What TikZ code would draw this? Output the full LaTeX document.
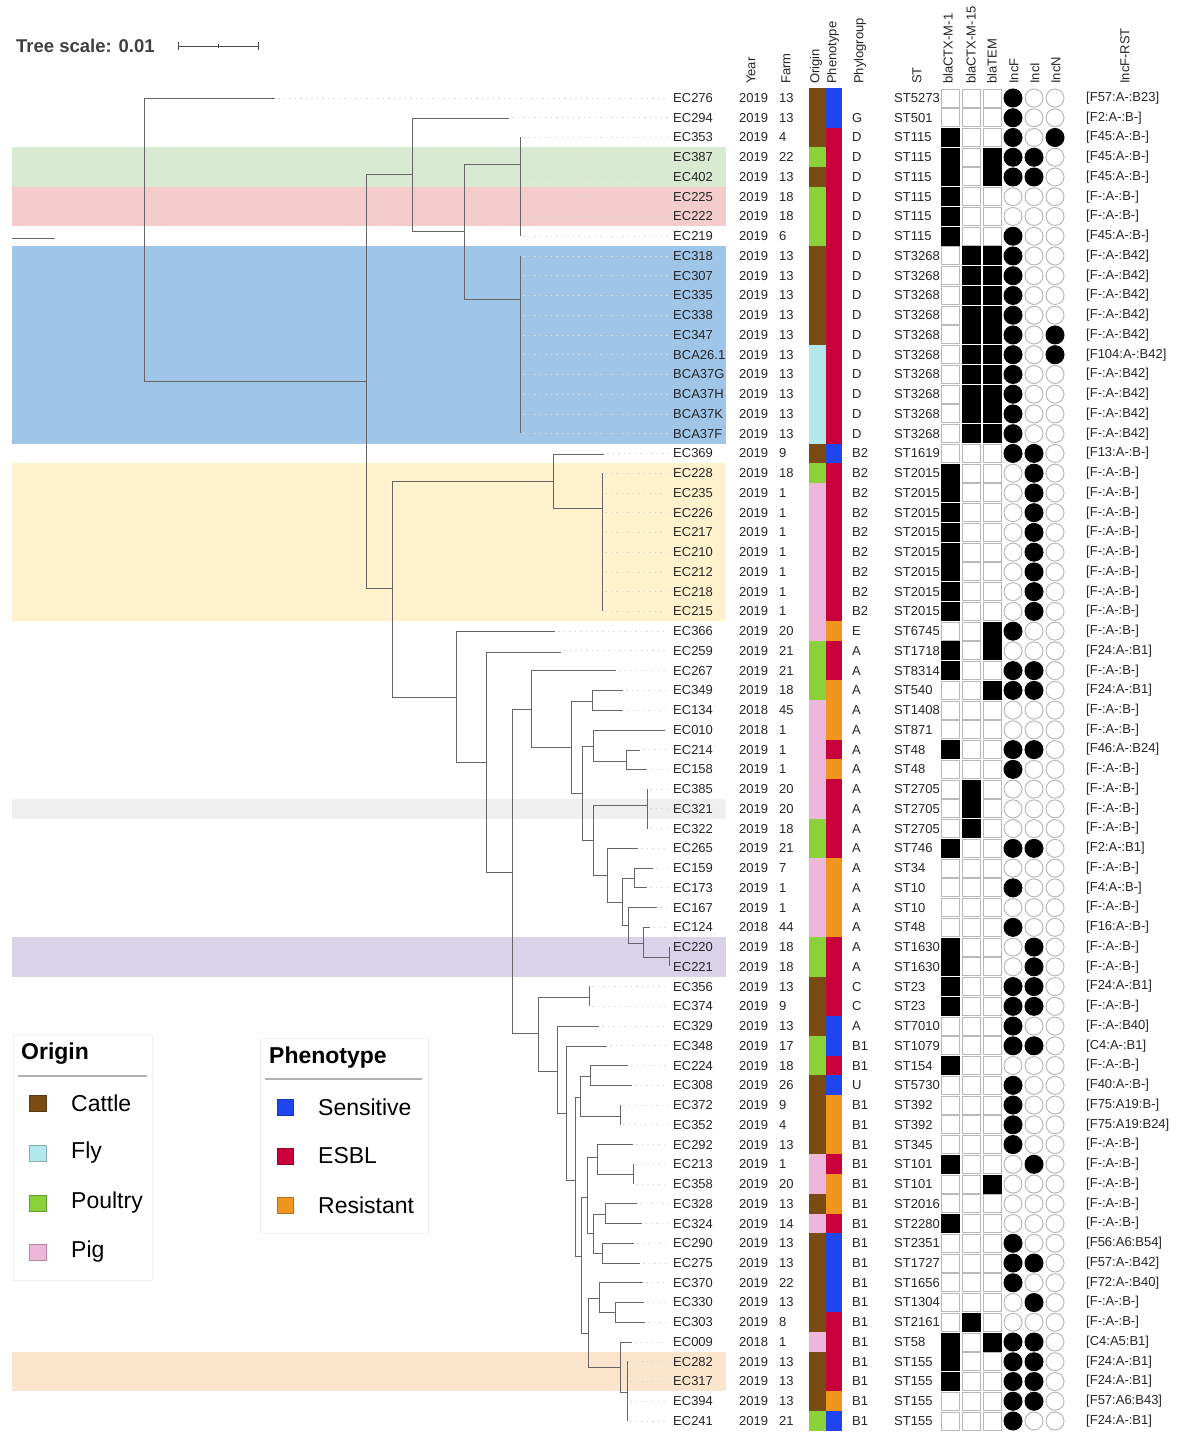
\documentclass[tikz,border=0pt]{standalone}
\usepackage{fontspec}
\setmainfont{Liberation Sans}
\definecolor{oC}{HTML}{7A4A13}
\definecolor{oF}{HTML}{B0E8EE}
\definecolor{oP}{HTML}{8BD13A}
\definecolor{oG}{HTML}{EDB6DA}
\definecolor{pS}{HTML}{1F45F0}
\definecolor{pE}{HTML}{C8003C}
\definecolor{pR}{HTML}{F0961E}
\definecolor{bandG}{HTML}{D9EAD3}
\definecolor{bandR}{HTML}{F4CCCC}
\definecolor{bandB}{HTML}{9FC5E8}
\definecolor{bandY}{HTML}{FFF2CC}
\definecolor{bandK}{HTML}{EFEFEF}
\definecolor{bandV}{HTML}{D9D2E9}
\definecolor{bandO}{HTML}{FCE5CD}
\colorlet{k0}{white}\colorlet{k1}{black}
\colorlet{e0}{gray!55}\colorlet{e1}{black}
\tikzset{tab/.style={inner sep=0pt,text=black!85,font=\fontsize{13}{15}\selectfont},
  branch/.style={draw=black!60,line width=0.9pt},
  leafdot/.style={draw=gray!30,line width=0.8pt,dash pattern=on 1.5pt off 4pt}}
\begin{document}
\begin{tikzpicture}[x=1pt,y=-1pt]
\useasboundingbox (0,0) rectangle (1181,1443);
\fill[white] (0,0) rectangle (1181,1443);
% highlighted clades
\foreach \ra/\rb/\bc in {3/4/bandG,5/6/bandR,8/17/bandB,19/26/bandY,36/36/bandK,43/44/bandV,64/65/bandO}
{\pgfmathsetmacro\ya{98+19.746*(\ra-0.5)}\pgfmathsetmacro\yb{98+19.746*(\rb+0.5)}
\fill[\bc] (12,\ya) rectangle (726,\yb);}
\draw[branch] (12,238) -- (55,238);
% tree scale
\node[anchor=west,inner sep=0pt,text=black!75,font=\bfseries\fontsize{18.5}{20}\selectfont] (scale) at (16,46) {Tree scale: 0.01};
\draw[black!70,line width=1pt] (178,46) -- (258,46);
\draw[black!70,line width=1pt] (178,42) -- (178,50) (258,42) -- (258,50) (218,44) -- (218,48);
% leaves
\foreach \r/\tx in {0/275,1/509,2/520,3/520,4/520,5/520,6/520,7/520,8/520,9/520,10/520,11/520,12/520,13/520,14/520,15/520,16/520,17/520,18/604,19/602,20/602,21/602,22/602,23/602,24/602,25/602,26/602,27/555,28/561,29/616,30/623,31/623,32/665,33/640,34/647,35/647,36/647,37/647,38/638,39/653,40/647,41/657,42/650,43/669,44/669,45/589,46/589,47/599,48/607,49/628,50/632,51/620,52/620,53/633,54/633,55/633,56/637,57/642,58/634,59/640,60/643,61/644,62/645,63/632,64/627,65/627,66/627,67/627}
{\pgfmathsetmacro\yy{98+19.746*\r}
\draw[leafdot] (\tx+3,\yy) -- (668,\yy);}
% tree
\foreach \xa/\ya/\xn/\yb/\xb in {275/98/144/381/366,412/174/366/588/392,509/118/412/231/464,520/164/464/299/520,
553/481/392/697/456,604/454/553/508/602,555/631/456/762/486,561/652/486/872/512,531/709/512/1033/538,
616/670/531/747/571,592/701/571/793/582,623/690/592/710/623,593/746/582/840/593,665/730/593/761/626,
640/750/626/769/647,647/805/593/875/607,638/848/607/902/622,634/878/622/925/628,653/868/634/887/647,
657/907/628/943/643,650/927/643/957/669,589/997/538/1071/557,599/1026/557/1113/566,607/1046/566/1180/575,
580/1097/575/1256/581,590/1076/580/1116/620,628/1065/590/1085/632,587/1197/581/1333/588,597/1157/587/1233/593,
633/1144/597/1174/633,605/1214/593/1253/602,637/1203/605/1223/642,634/1243/602/1263/640,599/1298/588/1367/620,
643/1282/599/1312/615,644/1302/615/1322/645,632/1342/620/1392/627}
\draw[branch] (\xa,\ya) -| (\xn,\yb) -- (\xb,\yb);
\foreach \xn/\ya/\yb in {520/137/236,520/256/433,602/473/611,647/789/829,669/947/966,589/986/1006,620/1105/1125,633/1164/1184,627/1361/1421}
\draw[branch] (\xn,\ya) -- (\xn,\yb);
% column heads
\foreach \hx/\htxt [count=\k] in {751/Year,786/Farm,816/Origin,833/Phenotype,860/Phylogroup,917/ST,948/blaCTX-M-1,971/blaCTX-M-15,992/blaTEM,1014/IncF,1035/IncI,1056/IncN,1125/IncF-RST}
\node[tab,rotate=90,anchor=west] (head\k) at (\hx,84) {\htxt};
% isolates
\foreach \nm/\yr/\fm/\grp/\stt/\rst [count=\r from 0] in {EC276/2019/13/{}/ST5273/F57:A-:B23,
EC294/2019/13/G/ST501/F2:A-:B-,EC353/2019/4/D/ST115/F45:A-:B-,EC387/2019/22/D/ST115/F45:A-:B-,
EC402/2019/13/D/ST115/F45:A-:B-,EC225/2019/18/D/ST115/F-:A-:B-,EC222/2019/18/D/ST115/F-:A-:B-,
EC219/2019/6/D/ST115/F45:A-:B-,EC318/2019/13/D/ST3268/F-:A-:B42,EC307/2019/13/D/ST3268/F-:A-:B42,
EC335/2019/13/D/ST3268/F-:A-:B42,EC338/2019/13/D/ST3268/F-:A-:B42,EC347/2019/13/D/ST3268/F-:A-:B42,
BCA26.1/2019/13/D/ST3268/F104:A-:B42,BCA37G/2019/13/D/ST3268/F-:A-:B42,BCA37H/2019/13/D/ST3268/F-:A-:B42,
BCA37K/2019/13/D/ST3268/F-:A-:B42,BCA37F/2019/13/D/ST3268/F-:A-:B42,EC369/2019/9/B2/ST1619/F13:A-:B-,
EC228/2019/18/B2/ST2015/F-:A-:B-,EC235/2019/1/B2/ST2015/F-:A-:B-,EC226/2019/1/B2/ST2015/F-:A-:B-,
EC217/2019/1/B2/ST2015/F-:A-:B-,EC210/2019/1/B2/ST2015/F-:A-:B-,EC212/2019/1/B2/ST2015/F-:A-:B-,
EC218/2019/1/B2/ST2015/F-:A-:B-,EC215/2019/1/B2/ST2015/F-:A-:B-,EC366/2019/20/E/ST6745/F-:A-:B-,
EC259/2019/21/A/ST1718/F24:A-:B1,EC267/2019/21/A/ST8314/F-:A-:B-,EC349/2019/18/A/ST540/F24:A-:B1,
EC134/2018/45/A/ST1408/F-:A-:B-,EC010/2018/1/A/ST871/F-:A-:B-,EC214/2019/1/A/ST48/F46:A-:B24,
EC158/2019/1/A/ST48/F-:A-:B-,EC385/2019/20/A/ST2705/F-:A-:B-,EC321/2019/20/A/ST2705/F-:A-:B-,
EC322/2019/18/A/ST2705/F-:A-:B-,EC265/2019/21/A/ST746/F2:A-:B1,EC159/2019/7/A/ST34/F-:A-:B-,
EC173/2019/1/A/ST10/F4:A-:B-,EC167/2019/1/A/ST10/F-:A-:B-,EC124/2018/44/A/ST48/F16:A-:B-,
EC220/2019/18/A/ST1630/F-:A-:B-,EC221/2019/18/A/ST1630/F-:A-:B-,EC356/2019/13/C/ST23/F24:A-:B1,
EC374/2019/9/C/ST23/F-:A-:B-,EC329/2019/13/A/ST7010/F-:A-:B40,EC348/2019/17/B1/ST1079/C4:A-:B1,
EC224/2019/18/B1/ST154/F-:A-:B-,EC308/2019/26/U/ST5730/F40:A-:B-,EC372/2019/9/B1/ST392/F75:A19:B-,
EC352/2019/4/B1/ST392/F75:A19:B24,EC292/2019/13/B1/ST345/F-:A-:B-,EC213/2019/1/B1/ST101/F-:A-:B-,
EC358/2019/20/B1/ST101/F-:A-:B-,EC328/2019/13/B1/ST2016/F-:A-:B-,EC324/2019/14/B1/ST2280/F-:A-:B-,
EC290/2019/13/B1/ST2351/F56:A6:B54,EC275/2019/13/B1/ST1727/F57:A-:B42,EC370/2019/22/B1/ST1656/F72:A-:B40,
EC330/2019/13/B1/ST1304/F-:A-:B-,EC303/2019/8/B1/ST2161/F-:A-:B-,EC009/2018/1/B1/ST58/C4:A5:B1,
EC282/2019/13/B1/ST155/F24:A-:B1,EC317/2019/13/B1/ST155/F24:A-:B1,EC394/2019/13/B1/ST155/F57:A6:B43,
EC241/2019/21/B1/ST155/F24:A-:B1}
{\pgfmathsetmacro\yy{98+19.746*\r}
\node[tab,anchor=west] (iso\r) at (673,\yy) {\nm};
\node[tab,anchor=west] (yr\r) at (739,\yy) {\yr};
\node[tab,anchor=west] (farm\r) at (779,\yy) {\fm};
\node[tab,anchor=west] (pg\r) at (852,\yy) {\grp};
\node[tab,anchor=west] (st\r) at (894,\yy) {\stt};
\node[tab,anchor=west] (rst\r) at (1086,\yy) {[\rst]};}
% origin and phenotype strips
\foreach \og/\ph [count=\r from 0] in {C/S,C/S,C/E,P/E,C/E,P/E,P/E,P/E,C/E,C/E,C/E,C/E,C/E,F/E,F/E,F/E,F/E,F/E,
C/S,P/E,G/E,G/E,G/E,G/E,G/E,G/E,G/E,G/R,P/E,P/E,P/R,G/R,G/R,G/E,G/R,G/E,G/E,P/E,P/E,G/R,G/R,G/R,G/R,P/E,P/E,
C/E,C/E,C/S,P/S,P/E,C/S,C/R,C/R,C/R,G/E,G/R,C/R,G/E,C/S,C/S,C/S,C/S,C/E,G/E,C/E,C/E,C/R,P/S}
{\pgfmathsetmacro\yy{98+19.746*\r}
\fill[fill=o\og] (809,\yy-9.9) rectangle (826,\yy+9.9);
\fill[fill=p\ph] (826,\yy-9.9) rectangle (842,\yy+9.9);}
% genes and plasmids
\foreach \ga/\gb/\gc/\pF/\pI/\pN [count=\r from 0] in {0/0/0/1/0/0,0/0/0/1/0/0,1/0/0/1/0/1,1/0/1/1/1/0,1/0/1/1/1/0,
1/0/0/0/0/0,1/0/0/0/0/0,1/0/0/1/0/0,0/1/1/1/0/0,0/1/1/1/0/0,0/1/1/1/0/0,0/1/1/1/0/0,0/1/1/1/0/1,0/1/1/1/0/1,
0/1/1/1/0/0,0/1/1/1/0/0,0/1/1/1/0/0,0/1/1/1/0/0,0/0/0/1/1/0,1/0/0/0/1/0,1/0/0/0/1/0,1/0/0/0/1/0,1/0/0/0/1/0,
1/0/0/0/1/0,1/0/0/0/1/0,1/0/0/0/1/0,1/0/0/0/1/0,0/0/1/1/0/0,1/0/1/0/0/0,1/0/0/1/1/0,0/0/1/1/1/0,0/0/0/0/0/0,
0/0/0/0/0/0,1/0/0/1/1/0,0/0/0/1/0/0,0/1/0/0/0/0,0/1/0/0/0/0,0/1/0/0/0/0,1/0/0/1/1/0,0/0/0/0/0/0,0/0/0/1/0/0,
0/0/0/0/0/0,0/0/0/1/0/0,1/0/0/0/1/0,1/0/0/0/1/0,1/0/0/1/1/0,1/0/0/1/1/0,0/0/0/1/0/0,0/0/0/1/1/0,1/0/0/0/0/0,
0/0/0/1/0/0,0/0/0/1/0/0,0/0/0/1/0/0,0/0/0/1/0/0,1/0/0/0/1/0,0/0/1/0/0/0,0/0/0/0/0/0,1/0/0/0/0/0,0/0/0/1/0/0,
0/0/0/1/1/0,0/0/0/1/0/0,0/0/0/0/1/0,0/1/0/0/0/0,1/0/1/1/1/0,1/0/0/1/1/0,1/0/0/1/1/0,0/0/0/1/1/0,0/0/0/1/0/0}
{\pgfmathsetmacro\yy{98+19.746*\r}
\foreach \v [count=\cc from 0] in {\ga,\gb,\gc}
\draw[draw=e\v,fill=k\v,line width=1pt] (941+21*\cc,\yy-9) rectangle ++(18,18);
\foreach \v [count=\cc from 0] in {\pF,\pI,\pN}
\draw[draw=e\v,fill=k\v,line width=1pt] (1013+21*\cc,\yy) circle[radius=9pt];}
% legends
\draw[gray!12] (13,1035) rectangle (152,1280);
\node[anchor=west,inner sep=0pt,font=\bfseries\fontsize{23}{26}\selectfont] (orgTitle) at (21,1054) {Origin};
\draw[gray!60,line width=1.5pt] (18,1076) -- (147,1076);
\foreach \lc/\lbl/\ly in {oC/Cattle/1103,oF/Fly/1153,oP/Poultry/1203,oG/Pig/1252}
{\draw[fill=\lc,draw=\lc!75!black,line width=0.6pt] (29,\ly-8) rectangle (46,\ly+8);
\node[anchor=west,inner sep=0pt,font=\fontsize{23}{26}\selectfont] (org\lbl) at (71,\ly) {\lbl};}
\draw[gray!12] (260,1038) rectangle (428,1233);
\node[anchor=west,inner sep=0pt,font=\bfseries\fontsize{23}{26}\selectfont] (phTitle) at (269,1058) {Phenotype};
\draw[gray!60,line width=1.5pt] (265,1079) -- (422,1079);
\foreach \lc/\lbl/\ly in {pS/Sensitive/1107,pE/ESBL/1156,pR/Resistant/1205}
{\draw[fill=\lc,draw=\lc!75!black,line width=0.6pt] (277,\ly-8) rectangle (293,\ly+8);
\node[anchor=west,inner sep=0pt,font=\fontsize{23}{26}\selectfont] (ph\lbl) at (318,\ly) {\lbl};}
\end{tikzpicture}
\end{document}
